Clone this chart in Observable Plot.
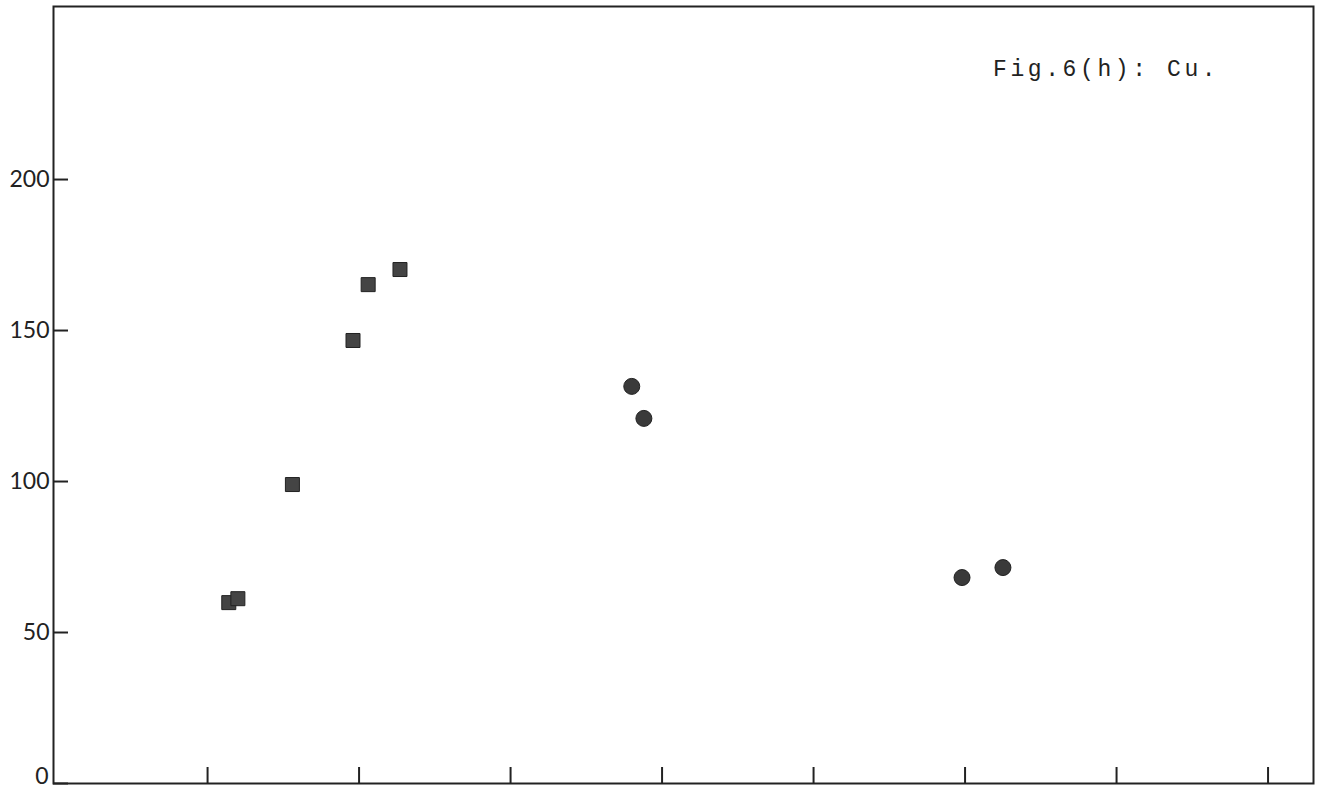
<!DOCTYPE html>
<html>
<head>
<meta charset="utf-8">
<script src="https://cdn.jsdelivr.net/npm/d3@7"></script>
<script src="https://cdn.jsdelivr.net/npm/@observablehq/plot@0.6"></script>
<style>
  html, body { margin: 0; padding: 0; background: #fff; }
  #chart { position: relative; width: 1321px; height: 790px; }
  #title { position: absolute; left: 993px; top: 57px; font-family: "Liberation Mono", "DejaVu Sans Mono", monospace; font-size: 23px; letter-spacing: 3.6px; color: #222; white-space: pre; }
</style>
</head>
<body>
<div id="chart"><div id="title">Fig.6(h): Cu.</div></div>
<script>
const squareX = [1.14, 1.20, 1.56, 1.96, 2.06, 2.27];
const squareY = [59.9, 61.2, 99.0, 146.7, 165.2, 170.2];
const circleX = [3.80, 3.88, 5.98, 6.25];
const circleY = [131.5, 120.9, 68.2, 71.5];
const yTicks = [0, 50, 100, 150, 200];
const xTicks = [1, 2, 3, 4, 5, 6, 7, 8];

const squares = squareX.map((x, i) => ({x, y: squareY[i]}));
const circles = circleX.map((x, i) => ({x, y: circleY[i]}));

const plot = Plot.plot({
  width: 1321,
  height: 790,
  marginLeft: 53,
  marginRight: 8,
  marginTop: 6,
  marginBottom: 7,
  style: {background: "#fff", fontFamily: "Lato, 'Open Sans', sans-serif"},
  x: {domain: [-0.017, 8.30], axis: null},
  y: {domain: [0, 257.3], axis: null},
  marks: [
    Plot.frame({stroke: "#222", strokeWidth: 2}),
    Plot.axisY(yTicks, {anchor: "left", tickSize: -15, text: null, stroke: "#222", strokeWidth: 2, label: null}),
    Plot.axisY(yTicks.filter(d => d > 0), {anchor: "left", tickSize: 0, tickPadding: 4, fontSize: 23, fill: "#222", label: null}),
    Plot.axisY(yTicks.filter(d => d === 0), {anchor: "left", tickSize: 0, tickPadding: 5, fontSize: 23, fill: "#222", dy: -7, label: null}),
    Plot.axisX(xTicks, {anchor: "bottom", tickSize: -16, text: null, stroke: "#222", strokeWidth: 2, label: null}),
    Plot.dot(squares, {x: "x", y: "y", symbol: "square", r: 7.9, fill: "#444", stroke: "#222", strokeWidth: 1}),
    Plot.dot(circles, {x: "x", y: "y", symbol: "circle", r: 8, fill: "#3a3a3a", stroke: "#222", strokeWidth: 1})
  ]
});
document.getElementById("chart").prepend(plot);
</script>
</body>
</html>
